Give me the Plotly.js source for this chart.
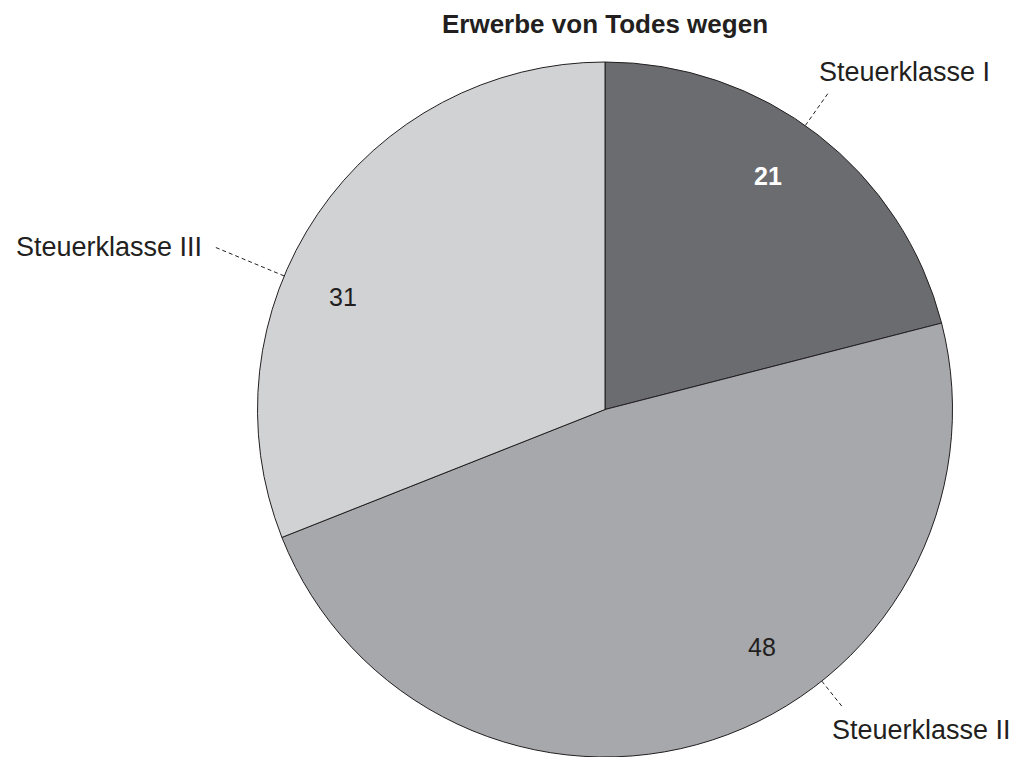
<!DOCTYPE html>
<html>
<head>
<meta charset="utf-8">
<script src="https://cdn.plot.ly/plotly-3.0.1.min.js"></script>
<style>html,body{margin:0;padding:0;background:#fff;}#chart{width:1018px;height:757px;}</style>
</head>
<body>
<div id="chart"></div>
<script>
// ---- data ----
const categories = ['Steuerklasse I', 'Steuerklasse II', 'Steuerklasse III'];
const values = [21, 48, 31];
const chartTitle = 'Erwerbe von Todes wegen';

// ---- style ----
const sliceColors = ['#6b6c70', '#a7a8ac', '#d1d2d4'];
const valueFontColors = ['#ffffff', '#231f20', '#231f20'];
const valueFontWeights = ['bold', 'normal', 'normal'];
const FONT = 'Liberation Sans, Arial, Helvetica, sans-serif';

// ---- placement (layout config, not data) ----
const W = 1018, H = 757;
const margin = {l: 257, r: 65, t: 62, b: 0};
const plotW = W - margin.l - margin.r, plotH = H - margin.t - margin.b;
const R = Math.min(plotW, plotH) / 2;
const cx = margin.l + plotW / 2, cy = margin.t + plotH / 2;
const valueTextAngleShift = [-3, -15.5, -11]; // degrees relative to slice mid-angle
const valueTextRadius = 0.82;
const leaderAngleShift = [-2.6, -20.6, -11.6];
const leaderOuter = [1.12, 1.10, 1.22];
const labelAnchor = [
  {xanchor: 'left', xshift: -12, yshift: 19},
  {xanchor: 'left', xshift: -13, yshift: -22},
  {xanchor: 'right', xshift: -10, yshift: 0}
];

function toPaper(angleDeg, rFrac) {
  const a = angleDeg * Math.PI / 180;
  const px = cx + rFrac * R * Math.sin(a);
  const py = cy - rFrac * R * Math.cos(a);
  return {x: (px - margin.l) / plotW, y: (H - margin.b - py) / plotH};
}

const total = values.reduce((s, v) => s + v, 0);
let cum = 0;
const midAngles = values.map(v => { const m = (cum + v / 2) / total * 360; cum += v; return m; });

const annotations = [];
const shapes = [];
values.forEach((v, i) => {
  const tp = toPaper(midAngles[i] + valueTextAngleShift[i], valueTextRadius);
  annotations.push({
    xref: 'paper', yref: 'paper', x: tp.x, y: tp.y, text: String(v), showarrow: false,
    xanchor: 'center', yanchor: 'middle',
    font: {family: FONT, size: 25, color: valueFontColors[i], weight: valueFontWeights[i]}
  });
  const la = midAngles[i] + leaderAngleShift[i];
  const p0 = toPaper(la, 1.0), p1 = toPaper(la, leaderOuter[i]);
  shapes.push({
    type: 'line', xref: 'paper', yref: 'paper', x0: p0.x, y0: p0.y, x1: p1.x, y1: p1.y,
    line: {color: '#231f20', width: 1, dash: '4px,3px'}
  });
  annotations.push({
    xref: 'paper', yref: 'paper', x: p1.x, y: p1.y, text: categories[i], showarrow: false,
    xanchor: labelAnchor[i].xanchor, yanchor: 'middle',
    xshift: labelAnchor[i].xshift, yshift: labelAnchor[i].yshift,
    font: {family: FONT, size: 27, color: '#231f20'}
  });
});

const trace = {
  type: 'pie',
  labels: categories,
  values: values,
  sort: false,
  direction: 'clockwise',
  rotation: 0,
  marker: {colors: sliceColors, line: {color: '#231f20', width: 1}},
  textinfo: 'none',
  hoverinfo: 'label+value',
  showlegend: false
};

const layout = {
  width: W, height: H,
  margin: margin,
  paper_bgcolor: '#ffffff',
  plot_bgcolor: '#ffffff',
  showlegend: false,
  title: {
    text: '<b>' + chartTitle + '</b>',
    x: 605 / W, xref: 'container', xanchor: 'center',
    y: 1 - 24 / H, yref: 'container', yanchor: 'middle',
    font: {family: FONT, size: 26, color: '#231f20'}
  },
  annotations: annotations,
  shapes: shapes
};

Plotly.newPlot('chart', [trace], layout, {displayModeBar: false, staticPlot: true});
</script>
</body>
</html>
